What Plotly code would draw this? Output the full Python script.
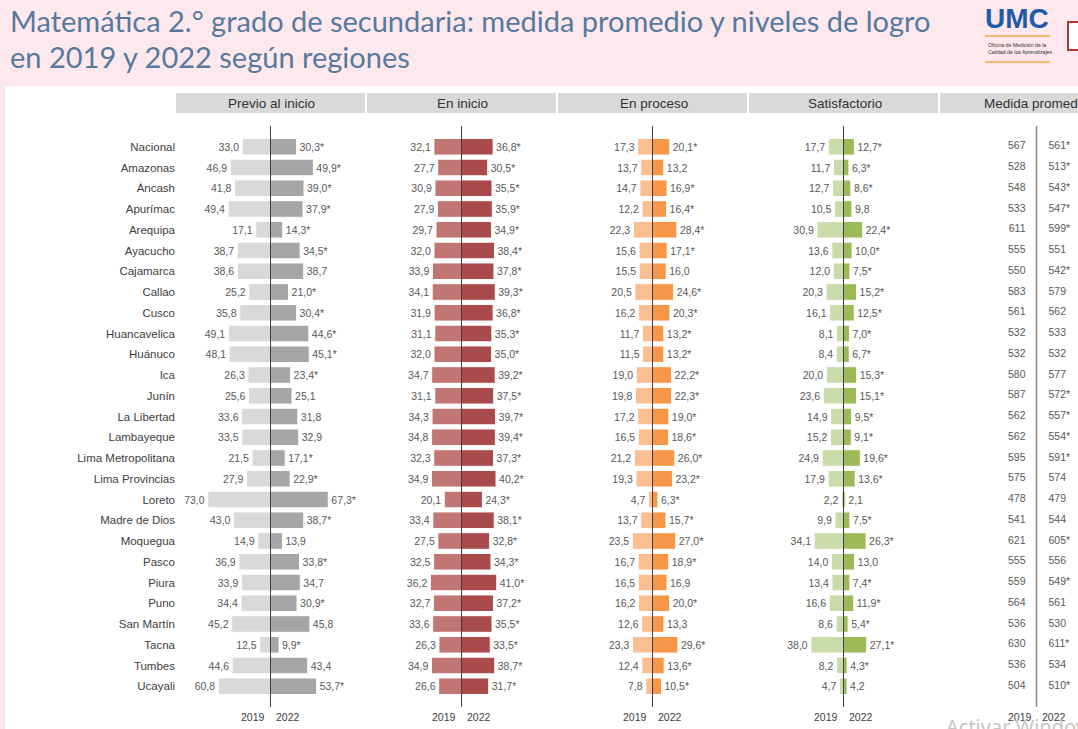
import plotly.graph_objects as go

W, H = 1078, 729

regions = ["Nacional", "Amazonas", "Áncash", "Apurímac", "Arequipa", "Ayacucho", "Cajamarca",
           "Callao", "Cusco", "Huancavelica", "Huánuco", "Ica", "Junín", "La Libertad",
           "Lambayeque", "Lima Metropolitana", "Lima Provincias", "Loreto", "Madre de Dios",
           "Moquegua", "Pasco", "Piura", "Puno", "San Martín", "Tacna", "Tumbes", "Ucayali"]

panel_titles = ["Previo al inicio", "En inicio", "En proceso", "Satisfactorio", "Medida promedio"]
year_labels = ["2019", "2022"]

previo_2019 = [33.0, 46.9, 41.8, 49.4, 17.1, 38.7, 38.6, 25.2, 35.8, 49.1, 48.1, 26.3, 25.6, 33.6,
               33.5, 21.5, 27.9, 73.0, 43.0, 14.9, 36.9, 33.9, 34.4, 45.2, 12.5, 44.6, 60.8]
previo_2022 = [30.3, 49.9, 39.0, 37.9, 14.3, 34.5, 38.7, 21.0, 30.4, 44.6, 45.1, 23.4, 25.1, 31.8,
               32.9, 17.1, 22.9, 67.3, 38.7, 13.9, 33.8, 34.7, 30.9, 45.8, 9.9, 43.4, 53.7]
previo_sig = [1, 1, 1, 1, 1, 1, 0, 1, 1, 1, 1, 1, 0, 0, 0, 1, 1, 1, 1, 0, 1, 0, 1, 0, 1, 0, 1]

inicio_2019 = [32.1, 27.7, 30.9, 27.9, 29.7, 32.0, 33.9, 34.1, 31.9, 31.1, 32.0, 34.7, 31.1, 34.3,
               34.8, 32.3, 34.9, 20.1, 33.4, 27.5, 32.5, 36.2, 32.7, 33.6, 26.3, 34.9, 26.6]
inicio_2022 = [36.8, 30.5, 35.5, 35.9, 34.9, 38.4, 37.8, 39.3, 36.8, 35.3, 35.0, 39.2, 37.5, 39.7,
               39.4, 37.3, 40.2, 24.3, 38.1, 32.8, 34.3, 41.0, 37.2, 35.5, 33.5, 38.7, 31.7]
inicio_sig = [1] * 27

proceso_2019 = [17.3, 13.7, 14.7, 12.2, 22.3, 15.6, 15.5, 20.5, 16.2, 11.7, 11.5, 19.0, 19.8, 17.2,
                16.5, 21.2, 19.3, 4.7, 13.7, 23.5, 16.7, 16.5, 16.2, 12.6, 23.3, 12.4, 7.8]
proceso_2022 = [20.1, 13.2, 16.9, 16.4, 28.4, 17.1, 16.0, 24.6, 20.3, 13.2, 13.2, 22.2, 22.3, 19.0,
                18.6, 26.0, 23.2, 6.3, 15.7, 27.0, 18.9, 16.9, 20.0, 13.3, 29.6, 13.6, 10.5]
proceso_sig = [1, 0, 1, 1, 1, 1, 0, 1, 1, 1, 1, 1, 1, 1, 1, 1, 1, 1, 1, 1, 1, 0, 1, 0, 1, 1, 1]

satisf_2019 = [17.7, 11.7, 12.7, 10.5, 30.9, 13.6, 12.0, 20.3, 16.1, 8.1, 8.4, 20.0, 23.6, 14.9,
               15.2, 24.9, 17.9, 2.2, 9.9, 34.1, 14.0, 13.4, 16.6, 8.6, 38.0, 8.2, 4.7]
satisf_2022 = [12.7, 6.3, 8.6, 9.8, 22.4, 10.0, 7.5, 15.2, 12.5, 7.0, 6.7, 15.3, 15.1, 9.5,
               9.1, 19.6, 13.6, 2.1, 7.5, 26.3, 13.0, 7.4, 11.9, 5.4, 27.1, 4.3, 4.2]
satisf_sig = [1, 1, 1, 0, 1, 1, 1, 1, 1, 1, 1, 1, 1, 1, 1, 1, 1, 0, 1, 1, 0, 1, 1, 1, 1, 1, 0]

medida_2019 = [567, 528, 548, 533, 611, 555, 550, 583, 561, 532, 532, 580, 587, 562,
               562, 595, 575, 478, 541, 621, 555, 559, 564, 536, 630, 536, 504]
medida_2022 = [561, 513, 543, 547, 599, 551, 542, 579, 562, 533, 532, 577, 572, 557,
               554, 591, 574, 479, 544, 605, 556, 549, 561, 530, 611, 534, 510]
medida_sig = [1, 1, 1, 1, 1, 0, 1, 0, 0, 0, 0, 0, 1, 1, 1, 1, 0, 0, 0, 1, 0, 1, 0, 0, 1, 0, 1]

colors_2019 = ["#d9d9d9", "#c27674", "#f9bf90", "#cadcaa"]
colors_2022 = ["#a6a6a6", "#a94b4b", "#f79646", "#9bbb59"]

SANS = "Liberation Sans, Arial, sans-serif"
VAL_SIZE = 10.5


def X(px):
    return px / W


def Y(py):
    return 1 - py / H


def fmt(v, star=0, dec=1):
    s = f"{v:.{dec}f}".replace(".", ",")
    return s + ("*" if star else "")


panels = [
    (previo_2019, previo_2022, previo_sig),
    (inicio_2019, inicio_2022, inicio_sig),
    (proceso_2019, proceso_2022, proceso_sig),
    (satisf_2019, satisf_2022, satisf_sig),
]

PANEL_LEFT0 = 176
PANEL_STEP = 191
PANEL_W = 189
HALF = 110  # data units on each side of centre

fig = go.Figure()
layout_axes = {}

for i, (v19, v22, sig) in enumerate(panels):
    ax = "" if i == 0 else str(i + 1)
    fig.add_trace(go.Bar(
        y=regions, x=[-v for v in v19], orientation="h",
        xaxis="x" + ax, yaxis="y",
        marker=dict(color=colors_2019[i], line=dict(color="white", width=1)),
        width=0.8,
        text=[fmt(v) for v in v19], textposition="outside",
        textfont=dict(family=SANS, size=VAL_SIZE, color="#595959"),
        cliponaxis=False, constraintext="none", hoverinfo="skip", showlegend=False,
    ))
    fig.add_trace(go.Bar(
        y=regions, x=v22, orientation="h",
        xaxis="x" + ax, yaxis="y",
        marker=dict(color=colors_2022[i], line=dict(color="white", width=1)),
        width=0.8,
        text=[fmt(v, s) for v, s in zip(v22, sig)], textposition="outside",
        textfont=dict(family=SANS, size=VAL_SIZE, color="#595959"),
        cliponaxis=False, constraintext="none", hoverinfo="skip", showlegend=False,
    ))
    left = PANEL_LEFT0 + PANEL_STEP * i
    layout_axes["xaxis" + ax] = dict(domain=[X(left), X(left + PANEL_W)], range=[-HALF, HALF],
                                     visible=False, fixedrange=True, anchor="y")

# Medida promedio panel (text only)
left5 = PANEL_LEFT0 + PANEL_STEP * 4
centre5 = left5 + PANEL_W / 2 + 2
layout_axes["xaxis5"] = dict(domain=[X(left5), 1], range=[-(centre5 - left5), W - centre5],
                             visible=False, fixedrange=True, anchor="y")
fig.add_trace(go.Scatter(
    y=regions, x=[-11] * len(regions), mode="text", xaxis="x5", yaxis="y",
    text=[fmt(v, 0, 0) for v in medida_2019], textposition="middle left",
    textfont=dict(family=SANS, size=VAL_SIZE, color="#595959"),
    cliponaxis=False, hoverinfo="skip", showlegend=False,
))
fig.add_trace(go.Scatter(
    y=regions, x=[12] * len(regions), mode="text", xaxis="x5", yaxis="y",
    text=[fmt(v, s, 0) for v, s in zip(medida_2022, medida_sig)], textposition="middle right",
    textfont=dict(family=SANS, size=VAL_SIZE, color="#595959"),
    cliponaxis=False, hoverinfo="skip", showlegend=False,
))

shapes = []
annotations = []

# background
shapes.append(dict(type="rect", xref="paper", yref="paper", x0=0, x1=1, y0=Y(86), y1=1,
                   fillcolor="#fde9ed", line_width=0, layer="below"))
shapes.append(dict(type="rect", xref="paper", yref="paper", x0=0, x1=X(5), y0=0, y1=Y(86),
                   fillcolor="#fde9ed", line_width=0, layer="below"))

# headers
for i, t in enumerate(panel_titles):
    left = PANEL_LEFT0 + PANEL_STEP * i
    right = left + PANEL_W if i < 4 else W + 5
    shapes.append(dict(type="rect", xref="paper", yref="paper", x0=X(left), x1=min(X(right), 1.01),
                       y0=Y(113), y1=Y(93), fillcolor="#d9d9d9", line_width=0, layer="below"))
    annotations.append(dict(text=t, xref="paper", yref="paper", x=X(left + PANEL_W / 2 + 1), y=Y(103.5),
                            xanchor="center", yanchor="middle", showarrow=False,
                            font=dict(family=SANS, size=13.5, color="#333333")))

# centre lines and year labels
for i in range(5):
    ax = "x" if i == 0 else "x" + str(i + 1)
    shapes.append(dict(type="line", xref=ax, yref="y", x0=0, x1=0, y0=-1.0, y1=27.0,
                       line=dict(color="#404040" if i < 4 else "#8c8c8c", width=1 if i < 4 else 1.5)))
    off = 20 if i < 4 else 17
    for yl, sgn in zip(year_labels, (-1, 1)):
        annotations.append(dict(text=yl, xref=ax, yref="paper", x=sgn * off, y=Y(717),
                                xanchor="center", yanchor="middle", showarrow=False,
                                font=dict(family=SANS, size=VAL_SIZE, color="#404040")))

# title
TITLE_FONT = dict(family="Lato, Open Sans, sans-serif", size=29, color="#57799e")
annotations.append(dict(text="Matemática 2.° grado de secundaria: medida promedio y niveles de logro",
                        xref="paper", yref="paper", x=X(8), y=Y(21), xanchor="left", yanchor="middle",
                        showarrow=False, font=TITLE_FONT))
annotations.append(dict(text="en 2019 y 2022 según regiones",
                        xref="paper", yref="paper", x=X(8), y=Y(56), xanchor="left", yanchor="middle",
                        showarrow=False, font=TITLE_FONT))

# logo
annotations.append(dict(text="<b>UMC</b>", xref="paper", yref="paper", x=X(1017), y=Y(18),
                        xanchor="center", yanchor="middle", showarrow=False,
                        font=dict(family=SANS, size=28, color="#1f5ca6")))
shapes.append(dict(type="line", xref="paper", yref="paper", x0=X(985), x1=X(1050), y0=Y(36), y1=Y(36),
                   line=dict(color="#f5b96b", width=2)))
shapes.append(dict(type="line", xref="paper", yref="paper", x0=X(985), x1=X(1050), y0=Y(62), y1=Y(62),
                   line=dict(color="#f5b96b", width=2)))
annotations.append(dict(text="Oficina de Medición de la<br>Calidad de los Aprendizajes", xref="paper", yref="paper",
                        x=X(986), y=Y(49), xanchor="left", yanchor="middle", align="left", showarrow=False,
                        font=dict(family=SANS, size=5.2, color="#333333")))
shapes.append(dict(type="rect", xref="paper", yref="paper", x0=X(1068), x1=X(1080), y0=Y(50), y1=Y(22),
                   fillcolor="#ffffff", line=dict(color="#b03a3a", width=2)))

# watermark
annotations.append(dict(text="Activar Windows", xref="paper", yref="paper", x=X(944), y=Y(711),
                        xanchor="left", yanchor="top", showarrow=False,
                        font=dict(family="Noto Sans, sans-serif", size=20, color="#c6c6c6")))

fig.update_layout(
    width=W, height=H,
    margin=dict(l=0, r=0, t=0, b=0),
    paper_bgcolor="white", plot_bgcolor="rgba(0,0,0,0)",
    barmode="overlay", bargap=0.2,
    showlegend=False,
    yaxis=dict(domain=[Y(707), Y(126)], range=[27, -1], type="category",
               categoryorder="array", categoryarray=regions,
               showgrid=False, zeroline=False, showline=False, ticks="",
               tickfont=dict(family=SANS, size=11.5, color="#404040"), fixedrange=True,
               anchor="x"),
    shapes=shapes, annotations=annotations,
    **layout_axes,
)

fig.write_html("out.html", config={"displayModeBar": False},
               post_script="document.body.style.margin='0px';document.body.style.overflow='hidden';")
